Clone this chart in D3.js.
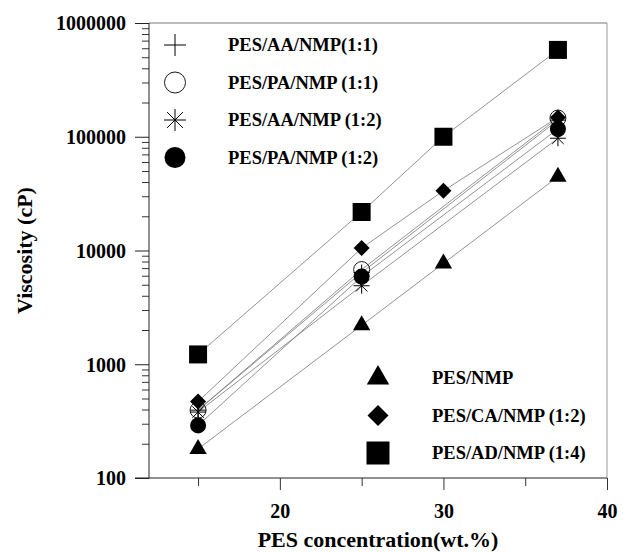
<!DOCTYPE html>
<html>
<head>
<meta charset="utf-8">
<script src="https://cdn.jsdelivr.net/npm/d3@7"></script>
<style>
  body { margin: 0; background: #fff; }
  text { font-family: "Liberation Serif", "Times New Roman", serif; font-weight: bold; fill: #000; }
</style>
</head>
<body>
<div id="chart"></div>
<script>
var w = 623, h = 552;
var margin = {top: 23, right: 16, bottom: 74, left: 149};

// concentrations (wt.%)
var conc = [15, 25, 30, 37];
var concShort = [15, 25, 37];

// viscosity values (cP)
var aa11 = [395, 6400, 140000];
var pa11 = [395, 6800, 146000];
var aa12 = [380, 4900, 97000];
var pa12 = [290, 5900, 117000];
var pesNmp = [180, 2200, 7700, 44500];
var caNmp = [470, 10500, 33500, 148000];
var adNmp = [1220, 21800, 100000, 580000];

var xTicks = [20, 30, 40];
var xMinor = [15, 25, 35];
var yTicks = [100, 1000, 10000, 100000, 1000000];

var series = [
  {name: "PES/AA/NMP(1:1)", x: concShort, y: aa11, sym: "plus"},
  {name: "PES/PA/NMP (1:1)", x: concShort, y: pa11, sym: "ocircle"},
  {name: "PES/AA/NMP (1:2)", x: concShort, y: aa12, sym: "star"},
  {name: "PES/PA/NMP (1:2)", x: concShort, y: pa12, sym: "circle"},
  {name: "PES/NMP", x: conc, y: pesNmp, sym: "triangle"},
  {name: "PES/CA/NMP (1:2)", x: conc, y: caNmp, sym: "diamond"},
  {name: "PES/AD/NMP (1:4)", x: conc, y: adNmp, sym: "square"}
];

var svg = d3.select("#chart").append("svg")
  .attr("width", w).attr("height", h);

var x = d3.scaleLinear().domain([12, 40]).range([margin.left, w - margin.right]);
var y = d3.scaleLog().domain([100, 1000000]).range([h - margin.bottom, margin.top]);

// frame (top and right in grey)
svg.append("line").attr("x1", x(12)).attr("x2", x(40)).attr("y1", y(1000000)).attr("y2", y(1000000))
  .attr("stroke", "#777").attr("stroke-width", 1);
svg.append("line").attr("x1", x(40)).attr("x2", x(40)).attr("y1", y(1000000)).attr("y2", y(100))
  .attr("stroke", "#999").attr("stroke-width", 1);

// y axis
var minor = [];
yTicks.slice(0, -1).forEach(function(d) {
  for (var k = 2; k <= 9; k++) minor.push(d * k);
});
svg.append("g")
  .attr("transform", "translate(" + x(12) + ",0)")
  .call(d3.axisLeft(y).tickValues(minor).tickSize(7).tickFormat(""))
  .call(function(g) { g.select(".domain").remove(); g.selectAll("line").attr("stroke", "#333"); });
svg.append("g")
  .attr("transform", "translate(" + x(12) + ",0)")
  .call(d3.axisLeft(y).tickValues(yTicks).tickSize(14).tickPadding(9).tickFormat(d3.format("d")))
  .call(function(g) {
    g.select(".domain").attr("stroke", "#222").attr("d", "M0," + y(100) + "V" + y(1000000));
    g.selectAll("line").attr("stroke", "#222");
    g.selectAll("text").style("font-size", "20px").attr("dy", "0.34em");
  });

// x axis
svg.append("g")
  .attr("transform", "translate(0," + y(100) + ")")
  .call(d3.axisBottom(x).tickValues(xMinor).tickSize(8).tickFormat(""))
  .call(function(g) { g.select(".domain").remove(); g.selectAll("line").attr("stroke", "#333"); });
svg.append("g")
  .attr("transform", "translate(0," + y(100) + ")")
  .call(d3.axisBottom(x).tickValues(xTicks).tickSize(12).tickPadding(14).tickFormat(d3.format("d")))
  .call(function(g) {
    g.select(".domain").attr("stroke", "#222").attr("d", "M" + (x(12) - 14) + ",0H" + x(40));
    g.selectAll("line").attr("stroke", "#333");
    g.selectAll("text").style("font-size", "20px");
  });

// axis titles
svg.append("text")
  .attr("transform", "translate(32," + ((y(100) + y(1000000)) / 2) + ") rotate(-90)")
  .attr("text-anchor", "middle")
  .style("font-size", "22px")
  .text("Viscosity (cP)");
svg.append("text")
  .attr("x", (x(12) + x(40)) / 2).attr("y", 547)
  .attr("text-anchor", "middle")
  .style("font-size", "22px")
  .text("PES concentration(wt.%)");

// marker drawing
function marker(g, sym, s) {
  var r = s / 2;
  if (sym === "plus") {
    g.append("path").attr("d", "M" + (-r) + ",0H" + r + "M0," + (-r) + "V" + r)
      .attr("stroke", "#000").attr("stroke-width", 1).attr("fill", "none");
  } else if (sym === "star") {
    var a = r * 0.72;
    g.append("path").attr("d", "M" + (-r) + ",0H" + r + "M0," + (-r) + "V" + r +
        "M" + (-a) + "," + (-a) + "L" + a + "," + a + "M" + (-a) + "," + a + "L" + a + "," + (-a))
      .attr("stroke", "#000").attr("stroke-width", 1).attr("fill", "none");
  } else if (sym === "ocircle") {
    g.append("circle").attr("r", r).attr("fill", "none").attr("stroke", "#000").attr("stroke-width", 0.9);
  } else if (sym === "circle") {
    g.append("circle").attr("r", r).attr("fill", "#000");
  } else if (sym === "triangle") {
    g.append("path").attr("d", d3.symbol().type(d3.symbolTriangle).size(s * s * 0.45)).attr("fill", "#000");
  } else if (sym === "diamond") {
    g.append("path").attr("d", d3.symbol().type(d3.symbolSquare).size(s * s * 0.5))
      .attr("transform", "rotate(45)").attr("fill", "#000");
  } else if (sym === "square") {
    g.append("path").attr("d", d3.symbol().type(d3.symbolSquare).size(s * s)).attr("fill", "#000");
  }
}

var line = d3.line().x(function(d) { return x(d[0]); }).y(function(d) { return y(d[1]); });

// lines first
series.forEach(function(s) {
  svg.append("path")
    .datum(d3.zip(s.x, s.y))
    .attr("d", line)
    .attr("fill", "none")
    .attr("stroke", "#777")
    .attr("stroke-width", 0.8);
});

// markers
var sizes = {plus: 16, ocircle: 16, star: 16, circle: 16, triangle: 17, diamond: 16, square: 18};
series.slice().reverse().forEach(function(s) {
  d3.zip(s.x, s.y).forEach(function(p) {
    var g = svg.append("g").attr("transform", "translate(" + x(p[0]) + "," + y(p[1]) + ")");
    marker(g, s.sym, sizes[s.sym]);
  });
});

// legends
var legTop = [0, 1, 2, 3], legBot = [4, 5, 6];
var lsize = {plus: 22, ocircle: 21, star: 22, circle: 21, triangle: 22, diamond: 21, square: 23};
legTop.forEach(function(i, k) {
  var yy = 45 + k * 37.5;
  var g = svg.append("g").attr("transform", "translate(175," + yy + ")");
  marker(g, series[i].sym, lsize[series[i].sym]);
  svg.append("text").attr("x", 228).attr("y", yy).attr("dy", "0.35em")
    .style("font-size", "18.5px").text(series[i].name);
});
legBot.forEach(function(i, k) {
  var yy = 378 + k * 37.5;
  var g = svg.append("g").attr("transform", "translate(378," + yy + ")");
  marker(g, series[i].sym, lsize[series[i].sym]);
  svg.append("text").attr("x", 432).attr("y", yy).attr("dy", "0.35em")
    .style("font-size", "18.5px").text(series[i].name);
});
</script>
</body>
</html>
